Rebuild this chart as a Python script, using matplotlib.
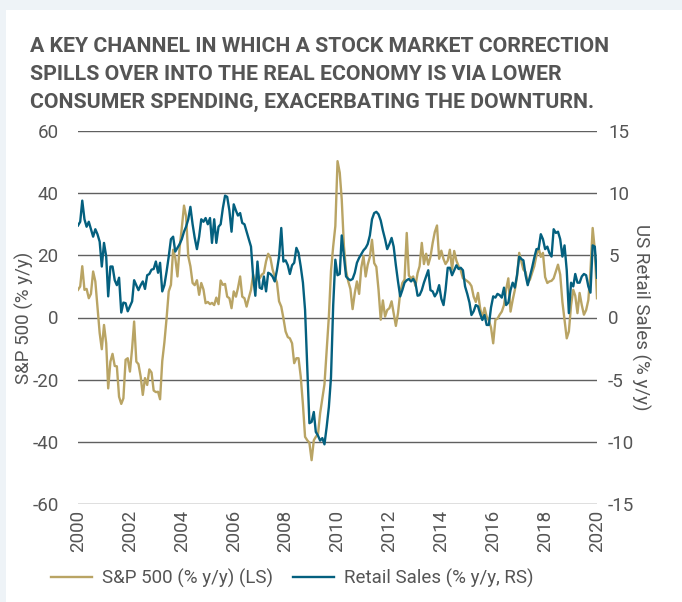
import matplotlib
matplotlib.use('Agg')
import matplotlib.pyplot as plt
import matplotlib.dates as mdates
from matplotlib.patches import Rectangle
import pandas as pd

# monthly, Jan 2000 .. Jan 2020
START = '2000-01-01'

sp500_yoy = [
    8.9, 10, 16.5, 8.9, 9.2, 6.2, 7.6, 14.8, 11.6, 3.5,
    -5.0, -10.2, -2.4, -8.3, -22.8, -14.2, -11.7, -15.6, -15.7, -25.5,
    -27.8, -26, -13.6, -13.1, -17.4, -9.9, -1.3, -14.2, -15, -19,
    -24.9, -19.5, -21.7, -16.7, -17.7, -23.5, -24, -23.9, -26.3, -14,
    -8, -0.2, 8.4, 10.5, 21.8, 19.2, 13.2, 22.4, 28.8, 36,
    32.6, 19.7, 16.5, 11.1, 10.4, 12, 7.3, 11.1, 9, 4.6,
    5.0, 4.3, 4.7, 4.0, 6.4, 4.3, 11.9, 10.5, 10.8, 6.7,
    6.2, 3.0, 8.4, 6.7, 9.4, 13.2, 6.7, 6.2, 3.5, 6.3,
    8.9, 13.8, 11, 13.2, 12.6, 13.8, 14.3, 18.1, 20.5, 19.2,
    15.5, 13.2, 11.3, 5.2, 3.5, -0.2, -4.5, -6.3, -6.7, -8.3,
    -14.7, -13.1, -13.1, -19, -28, -38.4, -39.5, -40.3, -45.9, -39.5,
    -38.4, -37.5, -30.8, -26, -21.5, -10.4, 0.3, 15, 22.9, 29.4,
    50.3, 46.6, 38, 22.9, 15, 11.6, 9.2, 2.7, 7.9, 11.6,
    7.6, 16, 19.8, 13.2, 16.9, 19.5, 25, 17.5, 16.3, 8.9,
    -0.7, 5.5, 0.3, 2.4, 3, 5.2, 1.4, -2.7, 1.4, 7.9,
    11.1, 12.2, 27.2, 13.5, 12.6, 13.2, 10.2, 14.3, 16.5, 24,
    17.2, 20.5, 17, 19.5, 24, 27.5, 29.6, 18.9, 21.5, 18.8,
    17.2, 18.3, 21.8, 15.4, 21.4, 18.3, 16.5, 15.2, 12.6, 12.2,
    11.7, 11.1, 10.1, 6.7, 5.0, 7.9, 3.0, -0.2, 3.1, 0.3,
    -1, -3.2, -8.3, -0.7, -0.4, 0.9, 1.9, 4.0, 9, 12.6,
    1.9, 5.6, 8.9, 13.2, 20.8, 18, 15.4, 14.6, 11.1, 12.2,
    14.3, 16.5, 20, 22.4, 19.5, 20.8, 13, 11.1, 11.6, 11.8,
    12.6, 14.8, 17, 13.8, 5, -0.7, -6.7, -4.5, 4, 8.9,
    7, 1.4, 7.9, 4, 0.9, 2.4, 5.6, 15, 28.8, 21.8,
    6.2,
]

retail_yoy = [
    7.4, 7.7, 9.4, 7.9, 7.3, 7.7, 7.1, 6.5, 7.1, 6.7,
    6.1, 4.1, 6.0, 4.9, 1.7, 4.1, 4.1, 3.0, 2.6, 3.2,
    0.4, 1.2, 1.15, 0.5, 0.9, 1.3, 3.0, 2.6, 2.2, 2.6,
    2.9, 2.3, 3.4, 3.5, 3.85, 3.9, 4.5, 3.6, 4.4, 2.1,
    2.6, 3.7, 4.9, 6.3, 6.5, 5.3, 5.6, 5.9, 6.3, 6.9,
    7.3, 7.9, 8.9, 7.5, 6.4, 5.5, 6.5, 7.9, 7.7, 8.0,
    7.5, 8.0, 6.0, 7.9, 6.0, 7.3, 7.5, 8.8, 9.8, 9.7,
    8.6, 6.9, 9.1, 8.6, 8.2, 8.4, 7.6, 7.5, 6.9, 6.3,
    5.7, 3.3, 1.75, 4.5, 2.4, 2.3, 3.3, 2.1, 3.6, 3.5,
    3.3, 2.9, 3.8, 4.9, 7.2, 4.5, 4.6, 4.2, 3.5, 4.2,
    4.4, 5.6, 5.2, 4.1, 2.8, 0.6, -4, -8.5, -8.4, -7.6,
    -9.2, -9.5, -9.9, -9.7, -10.2, -8.8, -7.2, -4.8, 1.0, 4.65,
    3.4, 3.5, 6.6, 4.9, 3.3, 3.1, 3.0, 3.1, 3.6, 4.4,
    4.8, 5.1, 5.4, 5.6, 5.9, 6.6, 7.9, 8.4, 8.5, 8.3,
    7.8, 7.0, 6.3, 5.5, 5.9, 6.4, 5.7, 4.2, 2.9, 1.7,
    2.2, 2.8, 3.0, 3.1, 2.9, 3.1, 2.8, 1.75, 1.8, 2.2,
    2.8, 3.3, 3.8, 2.2, 2.1, 1.7, 2.0, 2.6, 1.5, 1.0,
    2.2, 4.0, 4.0, 3.4, 3.8, 4.2, 3.9, 4.0, 3.8, 2.5,
    1.9, 1.2, 0.2, 0.5, 1.0, 0.9, 0.3, -0.2, 0.2, -0.6,
    -0.6, 0.8, 1.7, 1.6, 1.9, 1.8, 1.6, 2.4, 1.0, 1.2,
    2.2, 2.8, 2.4, 3.4, 4.9, 4.7, 4.6, 3.4, 2.6, 3.3,
    4.0, 4.8, 5.5, 5.5, 6.7, 6.3, 5.5, 5.7, 5.2, 4.9,
    7.1, 6.8, 6.9, 6.3, 4.9, 5.8, 3.8, 0.35, 2.8, 2.5,
    3.5, 2.8, 2.8, 3.3, 3.5, 3.4, 2.5, 2.0, 5.8, 5.7,
    3.2,
]

title_lines = [
    "A KEY CHANNEL IN WHICH A STOCK MARKET CORRECTION",
    "SPILLS OVER INTO THE REAL ECONOMY IS VIA LOWER",
    "CONSUMER SPENDING, EXACERBATING THE DOWNTURN.",
]
left_ticks = [-60, -40, -20, 0, 20, 40, 60]
right_ticks = [-15, -10, -5, 0, 5, 10, 15]

GOLD = '#b9a464'
TEAL = '#04607f'
GREY = '#555555'
FS = 13.5

plt.rcParams['font.family'] = ['Roboto', 'DejaVu Sans']
plt.rcParams['axes.unicode_minus'] = False

dates = pd.date_range(START, periods=len(sp500_yoy), freq='MS')

W, H = 682, 602
fig = plt.figure(figsize=(W / 100, H / 100), dpi=100)
fig.patch.set_facecolor('#eef3f7')
# white card
fig.add_artist(Rectangle((6 / W, 0), 1, 1 - 10 / H, transform=fig.transFigure,
                         facecolor='white', edgecolor='none', zorder=0))

# title: three lines, size fitted so the first line spans ~582 px
renderer = fig.canvas.get_renderer()
title_texts = []
for i, line in enumerate(title_lines):
    t = fig.text(30 / W, 1 - (52 + 28 * i) / H, line, ha='left', va='baseline',
                 fontsize=14, fontweight='bold', color=GREY)
    title_texts.append(t)
w0 = title_texts[0].get_window_extent(renderer).width
fs_title = min(14 * 582 / w0, 16)
for t in title_texts:
    t.set_fontsize(fs_title)

ax = fig.add_axes([78 / W, 1 - 504 / H, (597 - 78) / W, (504 - 131) / H])
ax.set_facecolor('none')
ax2 = ax.twinx()

l1, = ax.plot(dates, sp500_yoy, color=GOLD, lw=1.7, zorder=3)
l2, = ax2.plot(dates, retail_yoy, color=TEAL, lw=1.7, zorder=3)

ax.set_ylim(-60, 60)
ax2.set_ylim(-15, 15)
ax.set_yticks(left_ticks)
ax2.set_yticks(right_ticks)
ax.set_xlim(pd.Timestamp('2000-01-01'), pd.Timestamp('2020-01-01'))
ax.xaxis.set_major_locator(mdates.YearLocator(2))
ax.xaxis.set_major_formatter(mdates.DateFormatter('%Y'))

ax.grid(axis='y', color='#606060', lw=1.0)
ax.set_axisbelow(True)
for a in (ax, ax2):
    for s in a.spines.values():
        s.set_visible(False)
    a.tick_params(length=0, labelsize=FS, labelcolor=GREY)
ax.tick_params(axis='x', rotation=90, pad=4)
ax.tick_params(axis='y', pad=14)
ax2.tick_params(axis='y', pad=8)

ax.set_ylabel('S&P 500 (% y/y)', fontsize=FS, color=GREY)
ax.yaxis.set_label_coords((34 - 78) / 519, 0.5)
ax2.set_ylabel('US Retail Sales (% y/y)', fontsize=FS, color=GREY, rotation=270,
               va='center')
ax2.yaxis.set_label_coords((641 - 78) / 519, 0.5)

fig.legend([l1, l2], ['S&P 500 (% y/y) (LS)', 'Retail Sales (% y/y, RS)'],
           loc='center left', bbox_to_anchor=(34 / W, 1 - 578 / H),
           ncol=2, frameon=False, fontsize=FS, handlelength=2.2,
           columnspacing=1.1, handletextpad=0.5, labelcolor=GREY)

fig.savefig('out.png', dpi=100, facecolor=fig.get_facecolor())
